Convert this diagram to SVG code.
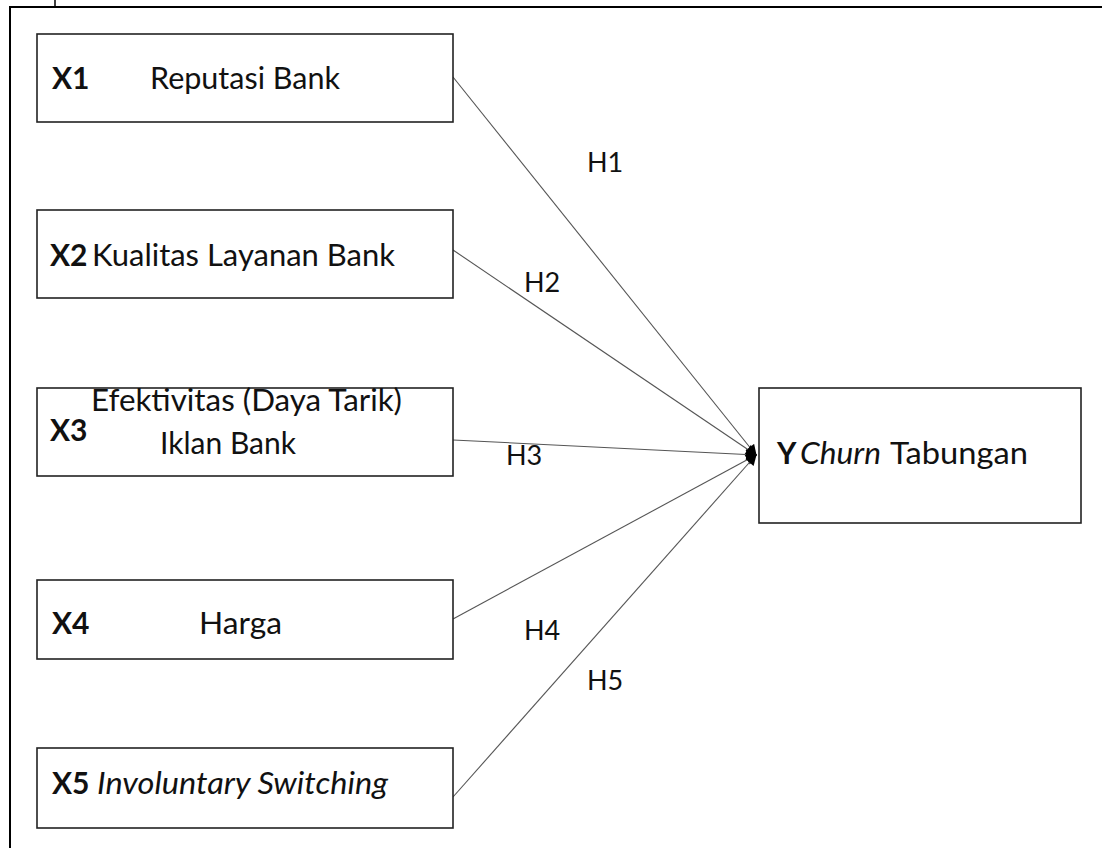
<svg xmlns="http://www.w3.org/2000/svg" width="1102" height="848" viewBox="0 0 1102 848">
<style>
.box{fill:#fff;stroke:#222;stroke-width:1.6}
.t{font-family:Lato,"Open Sans","Liberation Sans",sans-serif;font-size:30px;fill:#111}
.b{font-weight:bold}
.i{font-style:italic}
.h{font-family:Lato,"Open Sans","Liberation Sans",sans-serif;font-size:27px;fill:#111}
.c{stroke:#555;stroke-width:1.1;fill:none;marker-end:url(#ah)}
</style>
<defs>
<marker id="ah" viewBox="0 0 10 10" refX="9" refY="5" markerWidth="12" markerHeight="11" markerUnits="userSpaceOnUse" orient="auto">
<path d="M0,0 L10,5 L0,10 Z" fill="#000"/>
</marker>
</defs>
<rect width="1102" height="848" fill="#fff"/>
<g id="frame">
<path d="M10,848 V7 H1102" fill="none" stroke="#000" stroke-width="2"/>
<line x1="55" y1="0" x2="55" y2="7" stroke="#000" stroke-width="1.5"/>
</g>
<g id="connectors">
<line class="c" x1="453" y1="77" x2="756" y2="455"/>
<line class="c" x1="453" y1="250" x2="756" y2="455"/>
<line class="c" x1="453" y1="440" x2="756" y2="455"/>
<line class="c" x1="453" y1="619" x2="756" y2="455"/>
<line class="c" x1="453" y1="797" x2="756" y2="455"/>
<text class="h" x="587" y="172">H1</text>
<text class="h" x="524" y="292">H2</text>
<text class="h" x="506" y="465">H3</text>
<text class="h" x="524" y="640">H4</text>
<text class="h" x="587" y="690">H5</text>
</g>
<g id="x1">
<rect class="box" x="37" y="34" width="416" height="88"/>
<text class="t b" x="52" y="89">X1</text>
<text class="t" x="150" y="89" textLength="190" lengthAdjust="spacingAndGlyphs">Reputasi Bank</text>
</g>
<g id="x2">
<rect class="box" x="37" y="210" width="416" height="88"/>
<text class="t b" x="50" y="266">X2</text>
<text class="t" x="92" y="266" textLength="303" lengthAdjust="spacingAndGlyphs">Kualitas Layanan Bank</text>
</g>
<g id="x3">
<rect class="box" x="37" y="388" width="416" height="88"/>
<text class="t b" x="50" y="441">X3</text>
<text class="t" x="91" y="411" textLength="311" lengthAdjust="spacingAndGlyphs">Efektivitas (Daya Tarik)</text>
<text class="t" x="228" y="454" text-anchor="middle">Iklan Bank</text>
</g>
<g id="x4">
<rect class="box" x="37" y="580" width="416" height="79"/>
<text class="t b" x="52" y="634">X4</text>
<text class="t" x="199" y="634" textLength="83" lengthAdjust="spacingAndGlyphs">Harga</text>
</g>
<g id="x5">
<rect class="box" x="37" y="748" width="416" height="80"/>
<text class="t b" x="52" y="794">X5</text>
<text class="t i" x="97" y="794" textLength="291" lengthAdjust="spacingAndGlyphs">Involuntary Switching</text>
</g>
<g id="y">
<rect class="box" x="759" y="388" width="322" height="135"/>
<text class="t b" x="777" y="464">Y</text>
<text class="t i" x="800" y="464" textLength="81" lengthAdjust="spacingAndGlyphs">Churn</text>
<text class="t" x="890" y="464" textLength="138" lengthAdjust="spacingAndGlyphs">Tabungan</text>
</g>
</svg>
